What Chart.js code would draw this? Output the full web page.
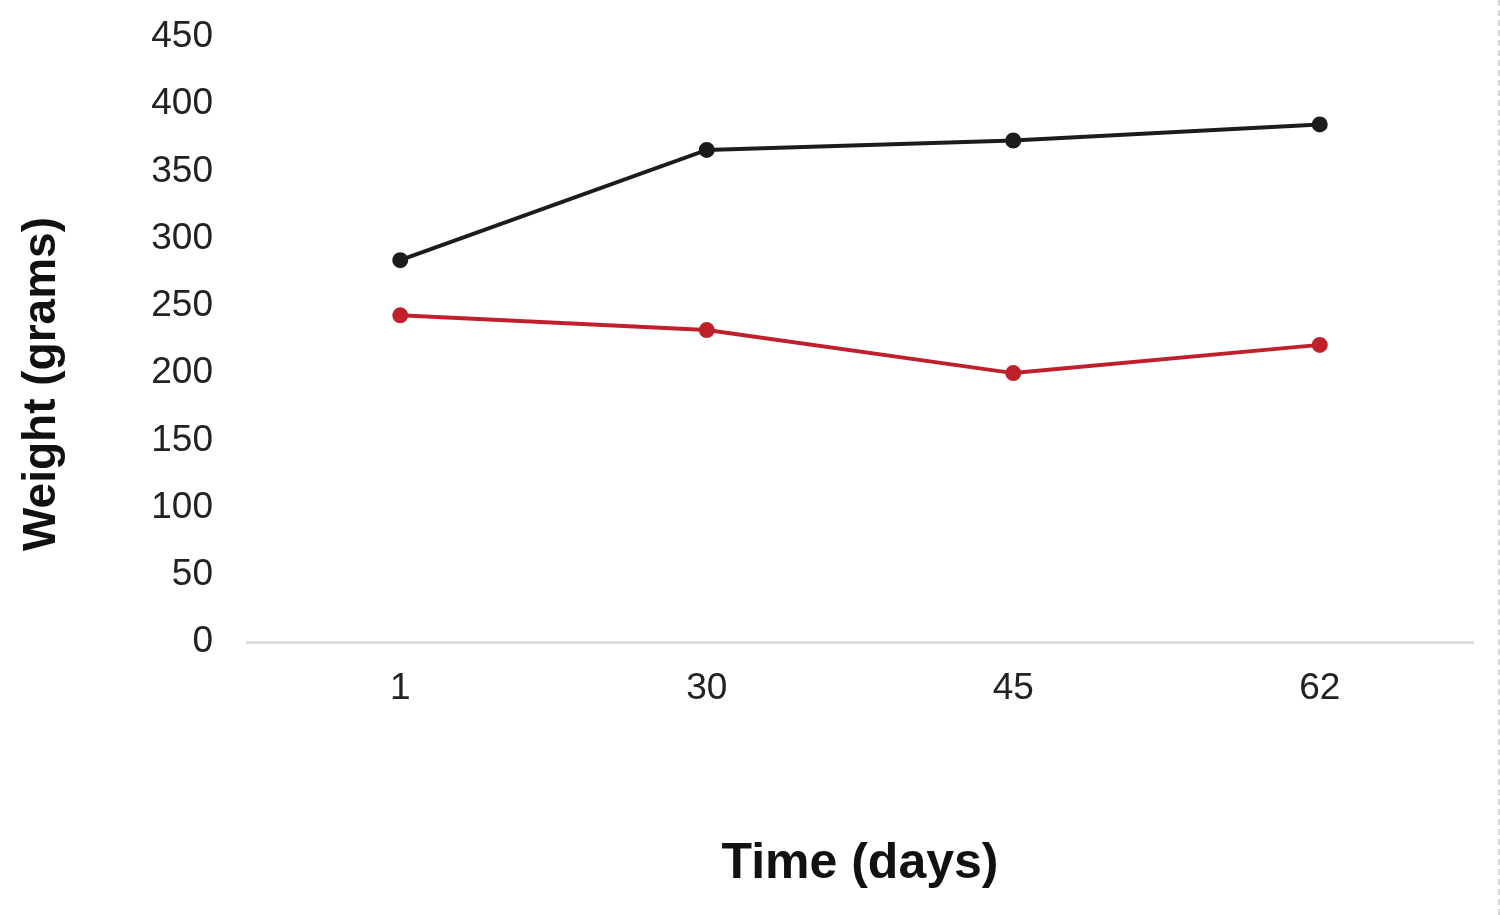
<!DOCTYPE html>
<html>
<head>
<meta charset="utf-8">
<script src="https://cdn.jsdelivr.net/npm/chart.js@4/dist/chart.umd.min.js"></script>
<style>
  html, body { margin: 0; padding: 0; background: #fff; }
  #wrap { position: relative; width: 1500px; height: 915px; }
  #edge { position: absolute; left: 1498px; top: 0; width: 0; height: 915px; border-left: 2px dashed #d6d6d6; }
</style>
</head>
<body>
<div id="wrap">
  <canvas id="c" width="1500" height="915"></canvas>
  <div id="edge"></div>
</div>
<script>
const categories = ['1', '30', '45', '62'];
const blackSeries = [284, 366, 373, 385];
const redSeries = [243, 232, 200, 221];
const yTitle = 'Weight (grams)';
const xTitle = 'Time (days)';

const FONT = "'Liberation Sans', Arial, sans-serif";

const yTitlePlugin = {
  id: 'yTitlePlugin',
  afterDraw(chart) {
    const ctx = chart.ctx;
    ctx.save();
    ctx.translate(42, 384);
    ctx.rotate(-Math.PI / 2);
    ctx.font = "bold 46px " + FONT;
    ctx.fillStyle = '#111';
    ctx.textAlign = 'center';
    ctx.textBaseline = 'middle';
    ctx.fillText(yTitle, 0, 0);
    ctx.restore();
  }
};

new Chart(document.getElementById('c'), {
  type: 'line',
  data: {
    labels: categories,
    datasets: [
      { data: blackSeries, borderColor: '#1c1c1c', backgroundColor: '#1c1c1c', borderWidth: 4, pointRadius: 6, pointHoverRadius: 6, tension: 0 },
      { data: redSeries, borderColor: '#c0202b', backgroundColor: '#c0202b', borderWidth: 4, pointRadius: 6, pointHoverRadius: 6, tension: 0 }
    ]
  },
  plugins: [yTitlePlugin],
  options: {
    responsive: false,
    animation: false,
    layout: { padding: { top: 37, right: 27, bottom: 0, left: 0 } },
    plugins: { legend: { display: false }, tooltip: { enabled: false } },
    scales: {
      x: {
        offset: true,
        grid: { display: false, drawTicks: false },
        border: { display: true, color: '#dddddd', width: 3 },
        ticks: { color: '#222', font: { family: FONT, size: 37 }, padding: 25 },
        title: { display: true, text: xTitle, color: '#111', font: { family: FONT, size: 50, weight: 'bold' }, padding: { top: 21, bottom: 21 } },
        afterFit: (s) => { s.height = 915 - 642; }
      },
      y: {
        min: 0, max: 450,
        ticks: { stepSize: 50, color: '#222', font: { family: FONT, size: 37 }, padding: 34 },
        grid: { display: false, drawTicks: false },
        border: { display: false },
        title: { display: false },
        afterFit: (s) => { s.width = 247; s.paddingTop = 0; s.paddingBottom = 0; }
      }
    }
  }
});
</script>
</body>
</html>
